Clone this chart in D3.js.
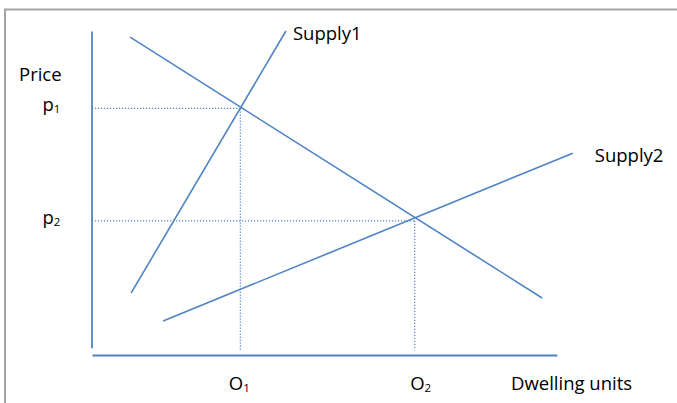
<!DOCTYPE html>
<html>
<head>
<meta charset="utf-8">
<script src="https://cdn.jsdelivr.net/npm/d3@7"></script>
<style>
  html, body { margin: 0; padding: 0; background: #fff; }
  svg { display: block; }
  text { font-family: "Open Sans", sans-serif; fill: #000; }
</style>
</head>
<body>
<script>
// ---- data (abstract units: x 0..100 quantity, y 0..100 price) ----
const demand  = [[8.2, 98.1], [96.8, 17.6]];
const supply1 = [[8.4, 19.1], [41.7, 100]];
const supply2 = [[15.3, 10.5], [103.4, 62.3]];
const seriesNames = ["Supply1", "Supply2"];
const priceLevels = [76.1, 41.4];          // p1, p2
const quantityLevels = [31.9, 69.4];       // O1, O2
const priceTickLabels = ["p", "p"];
const priceTickSubs = ["1", "2"];
const qtyTickLabels = ["O", "O"];
const qtyTickSubs = ["1", "2"];
const yAxisTitle = "Price";
const xAxisTitle = "Dwelling units";
const yAxisExtent = [2.2, 100];
const xAxisExtent = [0, 100];
const guideBottom = 1.5;

// ---- layout ----
const W = 677, H = 403;
const blue = "#4f83c4";
const x = d3.scaleLinear().domain([0, 100]).range([92, 557]);
const y = d3.scaleLinear().domain([0, 100]).range([355, 31]);

const svg = d3.select("body").append("svg").attr("width", W).attr("height", H);

// frame (top and left gray border)
svg.append("path")
  .attr("d", `M5,${H} L5,9.5 L${W},9.5`)
  .attr("fill", "none").attr("stroke", "#a3a3a3").attr("stroke-width", 2);

const line = d3.line().x(d => x(d[0])).y(d => y(d[1]));

// axes
const yAx = svg.append("g").attr("transform", `translate(${x(0) - 0.5},0)`)
  .call(d3.axisLeft(d3.scaleLinear().domain(yAxisExtent).range(yAxisExtent.map(y))).tickValues([]).tickSizeOuter(0));
const xAx = svg.append("g").attr("transform", `translate(0,${y(0)})`)
  .call(d3.axisBottom(d3.scaleLinear().domain(xAxisExtent).range(xAxisExtent.map(x))).tickValues([]).tickSizeOuter(0));
[yAx, xAx].forEach(g => g.select(".domain").attr("stroke", blue).attr("stroke-width", 1.8));

// dotted guides
priceLevels.forEach((p, i) => {
  const q = quantityLevels[i];
  svg.append("path").attr("d", line([[0, p], [q, p]]))
    .attr("fill", "none").attr("stroke", blue).attr("stroke-width", 1.2).attr("stroke-dasharray", "1.2,1.8");
  svg.append("path").attr("d", line([[q, p], [q, guideBottom]]))
    .attr("fill", "none").attr("stroke", blue).attr("stroke-width", 1.2).attr("stroke-dasharray", "1.2,1.8");
});

// curves
[demand, supply1, supply2].forEach(s => {
  svg.append("path").attr("d", line(s))
    .attr("fill", "none").attr("stroke", blue).attr("stroke-width", 1.6);
});

const fs = 18.5;
// series labels
[supply1, supply2].forEach((s, i) => {
  const end = s[s.length - 1];
  const off = i === 0 ? [7, 9] : [22, 8.5];
  svg.append("text").attr("x", x(end[0]) + off[0]).attr("y", y(end[1]) + off[1])
    .attr("font-size", fs).text(seriesNames[i]);
});

// axis titles
svg.append("text").attr("x", 19).attr("y", 81).attr("font-size", fs).text(yAxisTitle);
svg.append("text").attr("x", 511).attr("y", 390).attr("font-size", fs).text(xAxisTitle);

// price tick labels
priceLevels.forEach((p, i) => {
  const t = svg.append("text").attr("x", x(0) - 49.5).attr("y", y(p) + 3).attr("font-size", fs);
  t.append("tspan").text(priceTickLabels[i]);
  t.append("tspan").attr("font-size", 11.5).attr("dy", 2).text(priceTickSubs[i]);
});
// quantity tick labels
const qOff = [-11.5, -4.5];
quantityLevels.forEach((q, i) => {
  const t = svg.append("text").attr("x", x(q) + qOff[i]).attr("y", 390).attr("font-size", fs);
  t.append("tspan").text(qtyTickLabels[i]);
  t.append("tspan").attr("font-size", 11.5).attr("dy", 1.5).text(qtyTickSubs[i]);
});
</script>
</body>
</html>
